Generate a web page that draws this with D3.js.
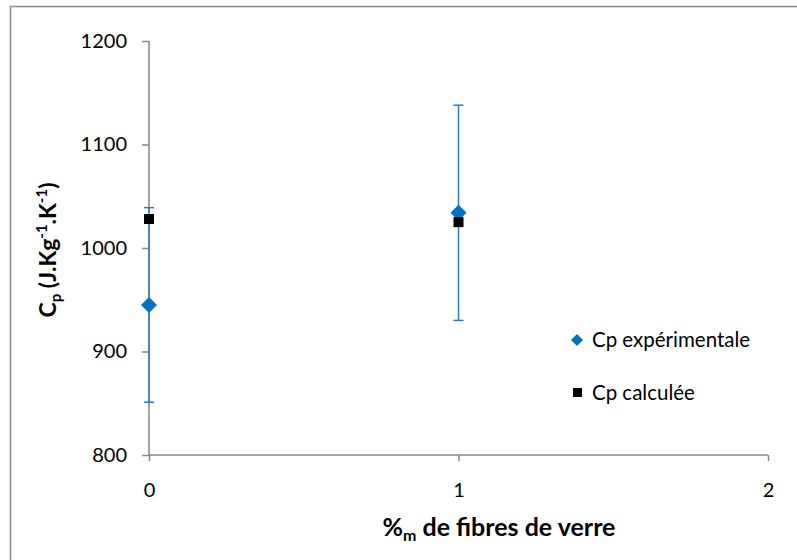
<!DOCTYPE html>
<html>
<head>
<meta charset="utf-8">
<script src="https://cdn.jsdelivr.net/npm/d3@7"></script>
<style>
body{margin:0;background:#fff;}
svg{display:block;font-family:Lato,"Open Sans",sans-serif;}
</style>
</head>
<body>
<svg id="chart" width="797" height="560"></svg>
<script>
const xValues = [0, 1];
const expValues = [945, 1034];
const expErrors = [94, 104];
const calcValues = [1028, 1025];
const yTicks = [800, 900, 1000, 1100, 1200];
const xTicks = [0, 1, 2];
const seriesNames = ["Cp expérimentale", "Cp calculée"];

const svg = d3.select("#chart");
const axisColor = "#868686";
const blue = "#0070C0";
const errColor = "#2E7BC4";

// outer border
svg.append("rect").attr("x", 10.5).attr("y", 6.5).attr("width", 800).attr("height", 600)
  .attr("fill", "none").attr("stroke", "#8c8c8c").attr("stroke-width", 1.5);

const x = d3.scaleLinear().domain([0, 2]).range([149, 768]);
const y = d3.scaleLinear().domain([800, 1200]).range([455, 41]);

// y axis
const yAxis = d3.axisLeft(y).tickValues(yTicks).tickSize(7).tickPadding(15).tickFormat(d3.format("d"));
const gy = svg.append("g").attr("transform", "translate(149,0)").call(yAxis);
gy.select(".domain").attr("stroke", axisColor).attr("stroke-width", 1.5).attr("d", `M0,${y(1200)}V${y(800)}`);
gy.selectAll(".tick line").attr("stroke", axisColor).attr("stroke-width", 1.5);
gy.selectAll(".tick text").attr("font-size", 20).attr("fill", "#000").attr("font-family", "Lato,sans-serif");

// x axis
const xAxis = d3.axisBottom(x).tickValues(xTicks).tickSize(6).tickPadding(22).tickFormat(d3.format("d"));
const gx = svg.append("g").attr("transform", `translate(0,${y(800)})`).call(xAxis);
gx.select(".domain").attr("stroke", axisColor).attr("stroke-width", 1.5).attr("d", `M${x(0)},0H${x(2)}`);
gx.selectAll(".tick line").attr("stroke", axisColor).attr("stroke-width", 1.5);
gx.selectAll(".tick text").attr("font-size", 20).attr("fill", "#000").attr("font-family", "Lato,sans-serif");

// error bars
const eb = svg.append("g");
xValues.forEach((xv, i) => {
  const cx = x(xv);
  const y1 = y(expValues[i] + expErrors[i]);
  const y2 = y(expValues[i] - expErrors[i]);
  eb.append("line").attr("x1", cx).attr("x2", cx).attr("y1", y1).attr("y2", y2)
    .attr("stroke", errColor).attr("stroke-width", 1.5);
  [y1, y2].forEach(yy => eb.append("line").attr("x1", cx - 5).attr("x2", cx + 5).attr("y1", yy).attr("y2", yy)
    .attr("stroke", errColor).attr("stroke-width", 1.5));
});

// diamonds
const diamond = "M0,-8L8,0L0,8L-8,0Z";
svg.append("g").selectAll("path").data(xValues).join("path")
  .attr("d", diamond)
  .attr("transform", (d, i) => `translate(${x(d)},${y(expValues[i])})`)
  .attr("fill", blue);

// squares
svg.append("g").selectAll("rect").data(xValues).join("rect")
  .attr("x", d => x(d) - 5).attr("y", (d, i) => y(calcValues[i]) - 5)
  .attr("width", 10).attr("height", 10).attr("fill", "#000");

// legend
const leg = svg.append("g");
leg.append("path").attr("d", "M0,-6L6,0L0,6L-6,0Z").attr("transform", "translate(577,340)").attr("fill", blue);
leg.append("text").attr("x", 592).attr("y", 347).attr("font-size", 20.5).text(seriesNames[0]);
leg.append("rect").attr("x", 573).attr("y", 388).attr("width", 9).attr("height", 9).attr("fill", "#000");
leg.append("text").attr("x", 592).attr("y", 400).attr("font-size", 20.5).text(seriesNames[1]);

// x axis title
const xt = svg.append("text").attr("x", 499).attr("y", 536).attr("text-anchor", "middle")
  .attr("font-size", 25).attr("font-weight", "bold");
xt.append("tspan").text("%");
xt.append("tspan").attr("font-size", 16).attr("dy", 5).text("m");
xt.append("tspan").attr("dy", -5).text(" de fibres de verre");

// y axis title
const yt = svg.append("text").attr("transform", "translate(56,250) rotate(-90)").attr("text-anchor", "middle")
  .attr("font-size", 23).attr("font-weight", "bold");
yt.append("tspan").text("C");
yt.append("tspan").attr("font-size", 15).attr("dy", 5).text("p");
yt.append("tspan").attr("dy", -5).text(" (J.Kg");
yt.append("tspan").attr("font-size", 15).attr("dy", -9).text("-1");
yt.append("tspan").attr("dy", 9).text(".K");
yt.append("tspan").attr("font-size", 15).attr("dy", -9).text("-1");
yt.append("tspan").attr("dy", 9).text(")");
</script>
</body>
</html>
